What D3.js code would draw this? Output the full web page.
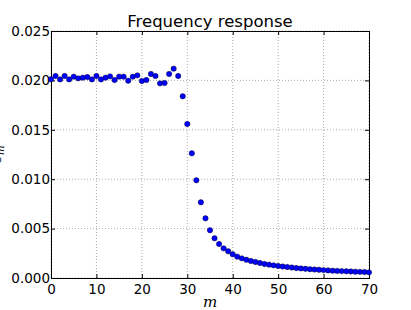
<!DOCTYPE html>
<html>
<head>
<meta charset="utf-8">
<script src="https://cdn.jsdelivr.net/npm/d3@7/dist/d3.min.js"></script>
<style>
  body { margin: 0; background: #fff; }
  text { font-family: "DejaVu Sans", sans-serif; fill: #000; }
</style>
</head>
<body>
<svg id="chart" width="411" height="310"></svg>
<script>
// coefficient index m and the measured response c_m
const mIndex = d3.range(0, 71)
const cm = [
  0.02011, 0.02045, 0.02010, 0.02045, 0.02010, 0.02038, 0.02021, 0.02028, 0.02034, 0.02010,
  0.02045, 0.02010, 0.02028, 0.02041, 0.02004, 0.02038, 0.02038, 0.01997, 0.02038, 0.02051,
  0.01994, 0.02004, 0.02065, 0.02045, 0.01970, 0.01974, 0.02065, 0.02119, 0.02045, 0.01839,
  0.01559, 0.01262, 0.00989, 0.00766, 0.00604, 0.00483, 0.00402, 0.00344, 0.00300, 0.00270,
  0.00240, 0.00216, 0.00199, 0.00185, 0.00172, 0.00162, 0.00152, 0.00142, 0.00135, 0.00128,
  0.00121, 0.00116, 0.00111, 0.00106, 0.00101, 0.00097, 0.00093, 0.00089, 0.00086, 0.00083,
  0.00080, 0.00077, 0.00074, 0.00072, 0.00070, 0.00068, 0.00066, 0.00064, 0.00062, 0.00060,
  0.00057
]
const xTicks = [0, 10, 20, 30, 40, 50, 60, 70]
const yTicks = [0, 0.005, 0.010, 0.015, 0.020, 0.025]

const plotLeft = 51, plotRight = 369, plotTop = 31, plotBottom = 278

const svg = d3.select('#chart')

const x = d3.scaleLinear().domain([0, 70]).range([plotLeft, plotRight])
const y = d3.scaleLinear().domain([0, 0.025]).range([plotBottom, plotTop])

// dotted grid
const grid = svg.append('g').attr('class', 'grid')
grid.selectAll('.gx')
  .data(xTicks)
  .enter()
  .append('line')
  .attr('x1', d => x(d)).attr('x2', d => x(d))
  .attr('y1', plotTop).attr('y2', plotBottom)
grid.selectAll('.gy')
  .data(yTicks)
  .enter()
  .append('line')
  .attr('x1', plotLeft).attr('x2', plotRight)
  .attr('y1', d => y(d)).attr('y2', d => y(d))
grid.selectAll('line')
  .style('stroke', '#999')
  .style('stroke-width', 0.8)
  .style('stroke-dasharray', '1,2')

// axes with inward ticks on all four sides
const fmt = d3.format('.3f')
svg.append('g')
  .attr('transform', 'translate(0,' + plotBottom + ')')
  .call(d3.axisBottom(x).tickValues(xTicks).tickSize(-4).tickPadding(6).tickFormat(d3.format('d')))
svg.append('g')
  .attr('transform', 'translate(0,' + plotTop + ')')
  .call(d3.axisTop(x).tickValues(xTicks).tickSize(-4).tickFormat(''))
svg.append('g')
  .attr('transform', 'translate(' + plotLeft + ',0)')
  .call(d3.axisLeft(y).tickValues(yTicks).tickSize(-4).tickPadding(1).tickFormat(fmt))
svg.append('g')
  .attr('transform', 'translate(' + plotRight + ',0)')
  .call(d3.axisRight(y).tickValues(yTicks).tickSize(-4).tickFormat(''))

svg.selectAll('.domain').style('stroke', '#000').style('stroke-width', 1)
svg.selectAll('.tick line').style('stroke', '#000')
svg.selectAll('.tick text')
  .style('font-family', '"DejaVu Sans", sans-serif')
  .style('font-size', '13.5px')
  .style('fill', '#000')

// points
svg.append('g')
  .selectAll('circle')
  .data(mIndex)
  .enter()
  .append('circle')
  .attr('cx', d => x(d))
  .attr('cy', d => y(cm[d]))
  .attr('r', 2.7)
  .style('fill', '#0000ff')
  .style('stroke', '#000')
  .style('stroke-width', 0.4)

// title and labels
svg.append('text')
  .attr('x', (plotLeft + plotRight) / 2)
  .attr('y', 27)
  .attr('text-anchor', 'middle')
  .style('font-size', '16.5px')
  .text('Frequency response')

svg.append('text')
  .attr('x', (plotLeft + plotRight) / 2)
  .attr('y', 307)
  .attr('text-anchor', 'middle')
  .style('font-family', '"DejaVu Serif", serif')
  .style('font-style', 'italic')
  .style('font-size', '15px')
  .text('m')

// the y label sits half outside the page, as in the original figure
const ylab = svg.append('text')
  .attr('transform', 'translate(0.5,' + ((plotTop + plotBottom) / 2) + ') rotate(-90)')
  .attr('text-anchor', 'middle')
  .style('font-family', '"DejaVu Serif", serif')
  .style('font-style', 'italic')
  .style('font-size', '15px')
ylab.append('tspan').text('c')
ylab.append('tspan').attr('dy', 3).style('font-size', '10.5px').text('m')
</script>
</body>
</html>
